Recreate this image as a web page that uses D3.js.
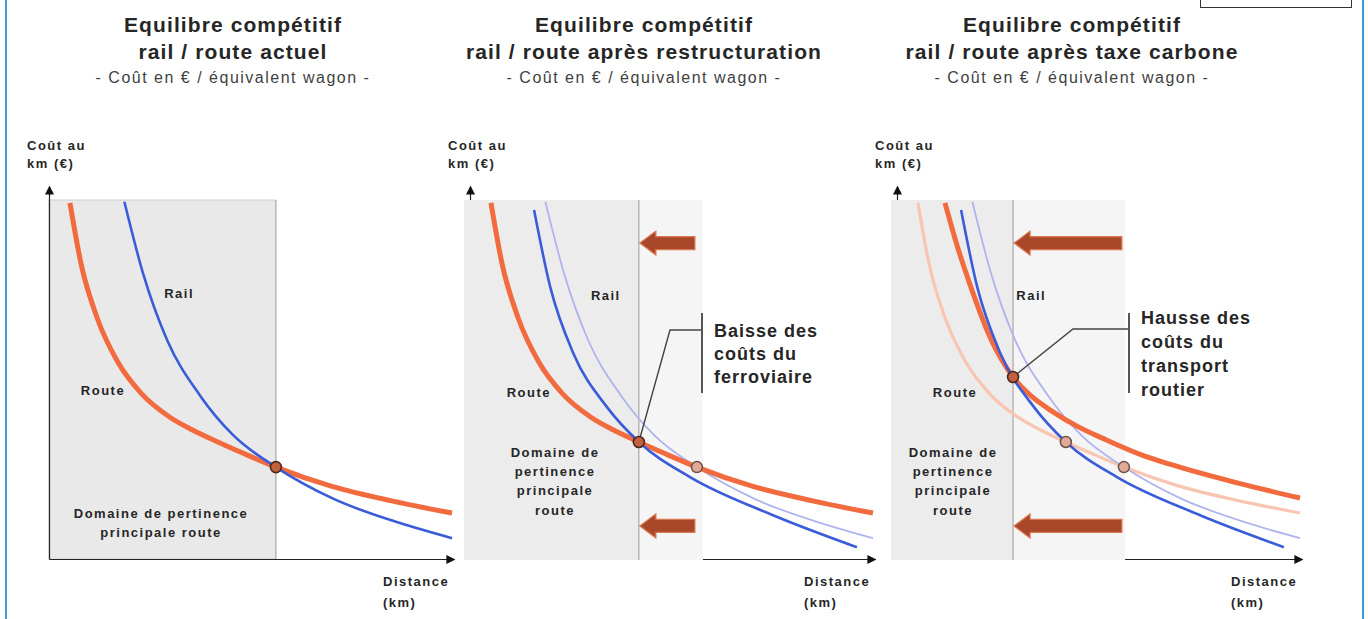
<!DOCTYPE html>
<html><head><meta charset="utf-8">
<script src="https://cdn.jsdelivr.net/npm/d3@7/dist/d3.min.js"></script>
<style>
html,body{margin:0;padding:0;background:#fff;}
svg{display:block;font-family:"Liberation Sans",Arial,Helvetica,sans-serif;}
</style></head><body>
<svg id="chart" width="1368" height="619"></svg>
<script>
// ---------------- DATA (distance & cost in relative units 0-100) ----------------
const titleLine1 = ["Equilibre compétitif", "Equilibre compétitif", "Equilibre compétitif"];
const titleLine2 = ["rail / route actuel", "rail / route après restructuration", "rail / route après taxe carbone"];
const subtitle = "- Coût en € / équivalent wagon -";
const yAxisLabel = ["Coût au", "km (€)"];
const xAxisLabel = ["Distance", "(km)"];
const railLabel = "Rail";
const routeLabel = "Route";
const domainLabel1 = ["Domaine de pertinence", "principale route"];
const domainLabel23 = ["Domaine de", "pertinence", "principale", "route"];
const noteRestructuration = ["Baisse des", "coûts du", "ferroviaire"];
const noteCarbone = ["Hausse des", "coûts du", "transport", "routier"];

// cost curves: [distance, cost]
const routeActuel = [[5.2,99.2],[8,82],[12,67],[17,55],[23,46],[30,39.5],[35.5,36.0],[41.9,32.6],[48.5,29.3],[56.3,25.6],[70,20.3],[85,16.2],[100,12.8]];
const railActuel = [[18.7,99.5],[23.3,79.7],[29.3,61.0],[37.5,45.5],[45.7,34.5],[56.3,25.6],[70.5,16.8],[87.1,10.0],[100,5.8]];
const railRestructure = [[15.9,97.2],[19.9,75.8],[25.6,57.4],[34.0,42.3],[41.9,32.6],[54.6,22.8],[75.2,12.2],[96.0,3.3]];
const routeCarbone = [[11.9,99.2],[15,87],[18.1,76.5],[23,62.0],[28.8,50.7],[33.5,45.2],[38.7,41.0],[45,36.8],[51.1,33.6],[60,29.3],[67.7,26.4],[84.4,21.2],[100,17.0]];

// equilibrium points [distance, cost]
const eqActuel = [56.3, 25.6];
const eqRestructure = [41.9, 32.6];
const eqCarbone = [28.8, 50.7];

// ---------------- LAYOUT ----------------
const svg = d3.select("#chart");
const defs = svg.append("defs");
defs.append("marker").attr("id","ah").attr("viewBox","0 0 10 10").attr("refX",9).attr("refY",5)
  .attr("markerWidth",9).attr("markerHeight",9).attr("markerUnits","userSpaceOnUse").attr("orient","auto")
  .append("path").attr("d","M0,0 L10,5 L0,10 Z").attr("fill","#111");

const C = {
  route: "#f26b3f", routeFaint: "#f8c6b0",
  rail: "#3a5cd8", railFaint: "#b0b4ee",
  gray: "#e9e9e9", gray2: "#ececec", grayLight: "#f5f5f5",
  arrow: "#a9472a", arrowEdge: "#d9774f", text: "#262626"
};

// frame
svg.append("rect").attr("x",0).attr("y",0).attr("width",1368).attr("height",619).attr("fill","#fff");
svg.append("line").attr("x1",6).attr("x2",6).attr("y1",0).attr("y2",619).attr("stroke","#3d9be0").attr("stroke-width",2);
svg.append("line").attr("x1",1363).attr("x2",1363).attr("y1",0).attr("y2",619).attr("stroke","#3d9be0").attr("stroke-width",2);
svg.append("rect").attr("x",1200.5).attr("y",-2).attr("width",151).attr("height",9.5).attr("fill","#fff").attr("stroke","#333").attr("stroke-width",1);

const panels = [
  { ox: 49, cx: 233, eq: eqActuel, axesOnTop: true,
    curves: [{d: routeActuel, c: C.route, w: 5}, {d: railActuel, c: C.rail, w: 2.6}],
    prev: [], rail: [32.3, 72.7], route: [13.4, 45.7],
    domain: domainLabel1, domainX: 27.8, domainY: [518, 537], light: null, arrows: false },
  { ox: 470, cx: 644, eq: eqRestructure, axesOnTop: false,
    curves: [{d: railActuel, c: C.railFaint, w: 1.8}, {d: routeActuel, c: C.route, w: 5}, {d: railRestructure, c: C.rail, w: 2.6}],
    prev: [eqActuel], rail: [33.7, 72.1], route: [14.6, 45.1],
    domain: domainLabel23, domainX: 21.1, domainY: [457, 476, 495, 515], light: 57.8, arrows: true, arrowTail: 55.8,
    note: noteRestructuration, bend: [670, 330], barX: 702, noteY: [337, 360, 383] },
  { ox: 897, cx: 1072, eq: eqCarbone, axesOnTop: false,
    curves: [{d: routeActuel, c: C.routeFaint, w: 3.2}, {d: railActuel, c: C.railFaint, w: 1.8}, {d: routeCarbone, c: C.route, w: 5}, {d: railRestructure, c: C.rail, w: 2.6}],
    prev: [eqRestructure, eqActuel], rail: [33.3, 72.1], route: [14.4, 45.1],
    domain: domainLabel23, domainX: 13.9, domainY: [457, 476, 495, 515], light: 56.6, arrows: true, arrowTail: 55.8,
    note: noteCarbone, bend: [1073, 329], barX: 1129, noteY: [324, 348, 372, 396] }
];

panels.forEach((p, i) => {
  const g = svg.append("g");
  const x = d3.scaleLinear().domain([0, 100]).range([p.ox, p.ox + 403]);
  const y = d3.scaleLinear().domain([0, 100]).range([559, 200]);

  // titles
  const tg = g.append("g").attr("text-anchor","middle").attr("fill", C.text);
  tg.append("text").attr("x", p.cx).attr("y", 32).attr("font-size", 21).attr("font-weight","bold").attr("letter-spacing", 1.1).text(titleLine1[i]);
  tg.append("text").attr("x", p.cx).attr("y", 59).attr("font-size", 21).attr("font-weight","bold").attr("letter-spacing", 1.1).text(titleLine2[i]);
  tg.append("text").attr("x", p.cx).attr("y", 83).attr("font-size", 16).attr("fill","#3f3f3f").attr("letter-spacing", 1.5).text(subtitle);

  // axes (d3 axes with no ticks, extended with arrowheads)
  const drawAxes = () => {
    const xa = d3.scaleLinear().domain([0, 101]).range([p.ox, p.ox + 405]);
    const ya = d3.scaleLinear().domain([0, 103.9]).range([559, 186]);
    const ax = g.append("g").attr("transform", `translate(0,${y(0)})`)
      .call(d3.axisBottom(xa).tickValues([]).tickSizeOuter(0));
    ax.select(".domain").attr("stroke","#222").attr("stroke-width",1.2).attr("marker-end","url(#ah)");
    const ay = g.append("g").attr("transform", `translate(${x(0)},0)`)
      .call(d3.axisLeft(ya).tickValues([]).tickSizeOuter(0));
    ay.select(".domain").attr("stroke","#222").attr("stroke-width",1.2).attr("marker-end","url(#ah)");
  };
  if (!p.axesOnTop) drawAxes();

  // domain rectangles
  if (p.light !== null) {
    g.append("rect").attr("x", x(-1.5)).attr("y", y(100)).attr("width", x(p.light) - x(-1.5)).attr("height", y(-0.3) - y(100))
      .attr("fill", C.grayLight);
    g.append("rect").attr("x", x(-1.5)).attr("y", y(100)).attr("width", x(p.eq[0]) - x(-1.5)).attr("height", y(-0.3) - y(100))
      .attr("fill", C.gray2);
    g.append("line").attr("x1", x(p.eq[0])).attr("x2", x(p.eq[0])).attr("y1", y(100)).attr("y2", y(-0.3))
      .attr("stroke","#9a9a9a").attr("stroke-width",1);
  } else {
    g.append("rect").attr("x", x(0)).attr("y", y(100)).attr("width", x(p.eq[0]) - x(0)).attr("height", y(0) - y(100))
      .attr("fill", C.gray).attr("stroke","#cfcfcf").attr("stroke-width",1);
    g.append("line").attr("x1", x(p.eq[0])).attr("x2", x(p.eq[0])).attr("y1", y(100)).attr("y2", y(0))
      .attr("stroke","#a8a8a8").attr("stroke-width",1);
  }
  if (p.axesOnTop) drawAxes();

  // labels
  const lg = g.append("g").attr("text-anchor","middle").attr("fill", C.text).attr("font-weight","bold").attr("font-size", 13).attr("letter-spacing", 1.5);
  lg.append("text").attr("x", x(p.rail[0])).attr("y", y(p.rail[1])).text(railLabel);
  lg.append("text").attr("x", x(p.route[0])).attr("y", y(p.route[1])).text(routeLabel);
  p.domain.forEach((t, k) => lg.append("text").attr("x", x(p.domainX)).attr("y", p.domainY[k]).text(t));

  const ag = g.append("g").attr("fill", C.text).attr("font-weight","bold").attr("font-size", 13).attr("letter-spacing", 1.5);
  ag.append("text").attr("x", x(0) - 22).attr("y", 150).text(yAxisLabel[0]);
  ag.append("text").attr("x", x(0) - 22).attr("y", 168).text(yAxisLabel[1]);
  ag.append("text").attr("x", x(100) - 69).attr("y", 586).text(xAxisLabel[0]);
  ag.append("text").attr("x", x(100) - 69).attr("y", 607).text(xAxisLabel[1]);

  // curves
  const line = d3.line().x(d => x(d[0])).y(d => y(d[1])).curve(d3.curveMonotoneX);
  p.curves.forEach(c => {
    g.append("path").attr("d", line(c.d)).attr("fill","none").attr("stroke", c.c).attr("stroke-width", c.w)
      .attr("stroke-linecap","butt");
  });

  // big arrows
  if (p.arrows) {
    [88, 9.2].forEach(v => {
      const tip = x(p.eq[0]) + 1, tail = x(p.arrowTail), cy = y(v), hl = 16, hh = 12, sh = 6.5;
      const path = `M${tip},${cy} L${tip+hl},${cy-hh} L${tip+hl},${cy-sh} L${tail},${cy-sh} L${tail},${cy+sh} L${tip+hl},${cy+sh} L${tip+hl},${cy+hh} Z`;
      g.append("path").attr("d", path).attr("fill", C.arrow).attr("stroke", C.arrowEdge).attr("stroke-width", 1.2).attr("stroke-linejoin","miter");
    });
    // leader + annotation
    g.append("polyline").attr("points", `${x(p.eq[0])},${y(p.eq[1])} ${p.bend[0]},${p.bend[1]} ${p.barX},${p.bend[1]}`)
      .attr("fill","none").attr("stroke","#444").attr("stroke-width",1.4);
    g.append("line").attr("x1", p.barX).attr("x2", p.barX).attr("y1", 313).attr("y2", 393).attr("stroke","#555").attr("stroke-width",2);
    const ng = g.append("g").attr("fill", C.text).attr("font-weight","bold").attr("font-size", 18).attr("letter-spacing", 1);
    p.note.forEach((t, k) => ng.append("text").attr("x", p.barX + 12).attr("y", p.noteY[k]).text(t));
  }

  // equilibrium markers
  p.prev.forEach(pt => g.append("circle").attr("cx", x(pt[0])).attr("cy", y(pt[1])).attr("r", 5.5)
    .attr("fill","#dfaa98").attr("stroke","#6e5048").attr("stroke-width",1.5));
  g.append("circle").attr("cx", x(p.eq[0])).attr("cy", y(p.eq[1])).attr("r", 5.5)
    .attr("fill","#c4603d").attr("stroke","#4a2a20").attr("stroke-width",1.6);
});
</script>
</body></html>
